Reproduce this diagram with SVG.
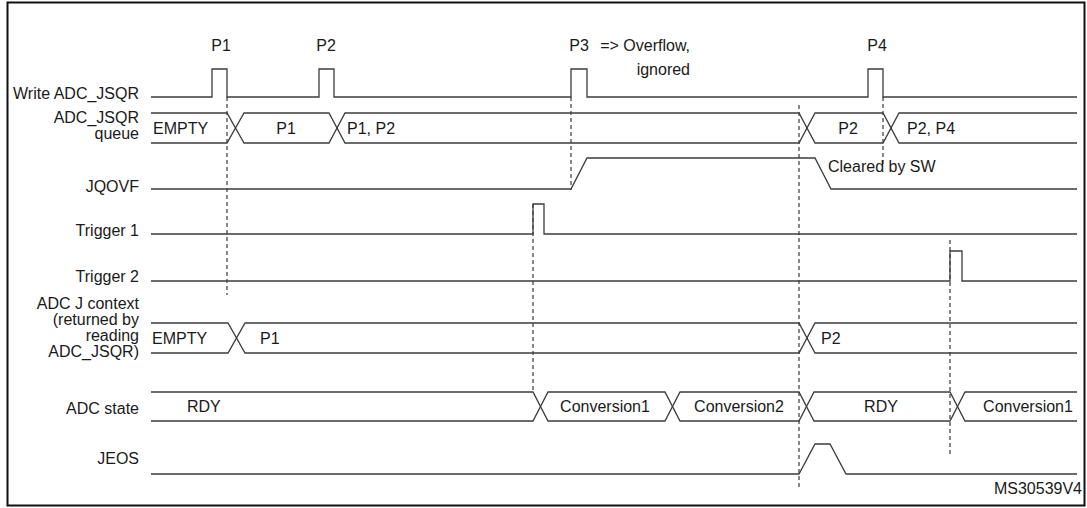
<svg xmlns="http://www.w3.org/2000/svg" width="1087" height="508" viewBox="0 0 1087 508">
<style>
text{font-family:"Liberation Sans",Arial,sans-serif;font-size:16px;fill:#1a1a1a}
.r{text-anchor:end}
.m{text-anchor:middle}
.sig{fill:none;stroke:#3c3c3c;stroke-width:1.3}
.dash{fill:none;stroke:#111;stroke-width:1;stroke-dasharray:4,3}
</style>
<rect x="7.5" y="2.5" width="1077" height="503" fill="#fff" stroke="#111" stroke-width="2"/>
<g id="connectors">
<line class="dash" x1="227" y1="97" x2="227" y2="295"/>
<line class="dash" x1="571" y1="97" x2="571" y2="190"/>
<line class="dash" x1="533" y1="204" x2="533" y2="393"/>
<line class="dash" x1="799" y1="105" x2="799" y2="490"/>
<line class="dash" x1="883" y1="97" x2="883" y2="165"/>
<line class="dash" x1="950" y1="240" x2="950" y2="457"/>
</g>
<g id="write-adc-jsqr">
<text class="r" x="139" y="99">Write ADC_JSQR</text>
<path class="sig" d="M151,97 H212 V69 H227 V97 H319 V69 H334 V97 H571 V69 H587 V97 H868 V69 H883 V97 H1077"/>
<text class="m" x="221" y="51">P1</text>
<text class="m" x="326" y="51">P2</text>
<text class="m" x="579" y="51">P3</text>
<text class="r" x="690" y="51">=&gt; Overflow,</text>
<text class="r" x="690" y="75">ignored</text>
<text class="m" x="877" y="51">P4</text>
</g>
<g id="adc-jsqr-queue">
<text class="r" x="139" y="123">ADC_JSQR</text>
<text class="r" x="139" y="139">queue</text>
<path class="sig" d="M151,113 H227 L244,143 H329 L345,113 H799 L815,143 H883 L899,113 H1077"/>
<path class="sig" d="M151,143 H227 L244,113 H329 L345,143 H799 L815,113 H883 L899,143 H1077"/>
<text x="153" y="134">EMPTY</text>
<text class="m" x="286" y="134">P1</text>
<text x="347" y="134">P1, P2</text>
<text class="m" x="848" y="134">P2</text>
<text x="907" y="134">P2, P4</text>
</g>
<g id="jqovf">
<text class="r" x="139" y="192">JQOVF</text>
<path class="sig" d="M151,189 H571 L587,158 H815 L831,189 H1077"/>
<text x="828" y="172">Cleared by SW</text>
</g>
<g id="trigger-1">
<text class="r" x="139" y="236">Trigger 1</text>
<path class="sig" d="M151,234 H533 V204 H544 V234 H1077"/>
</g>
<g id="trigger-2">
<text class="r" x="139" y="282">Trigger 2</text>
<path class="sig" d="M151,281 H950 V251 H962 V281 H1077"/>
</g>
<g id="adc-j-context">
<text class="r" x="139" y="309">ADC J context</text>
<text class="r" x="139" y="325">(returned by</text>
<text class="r" x="139" y="341">reading</text>
<text class="r" x="139" y="357">ADC_JSQR)</text>
<path class="sig" d="M151,323 H228 L245,353 H799 L815,323 H1077"/>
<path class="sig" d="M151,353 H228 L245,323 H799 L815,353 H1077"/>
<text x="152" y="344">EMPTY</text>
<text x="260" y="344">P1</text>
<text x="821" y="344">P2</text>
</g>
<g id="adc-state">
<text class="r" x="139" y="414">ADC state</text>
<path class="sig" d="M151,392 H533 L548,421 H665 L680,392 H799 L814,421 H950 L965,392 H1077"/>
<path class="sig" d="M151,421 H533 L548,392 H665 L680,421 H799 L814,392 H950 L965,421 H1077"/>
<text x="187" y="412">RDY</text>
<text class="m" x="605" y="412">Conversion1</text>
<text class="m" x="739" y="412">Conversion2</text>
<text class="m" x="881" y="412">RDY</text>
<text class="m" x="1028" y="412">Conversion1</text>
</g>
<g id="jeos">
<text class="r" x="139" y="464">JEOS</text>
<path class="sig" d="M151,474 H799 L815,444 H830 L846,474 H1077"/>
</g>
<text class="r" x="1082" y="494">MS30539V4</text>
</svg>
